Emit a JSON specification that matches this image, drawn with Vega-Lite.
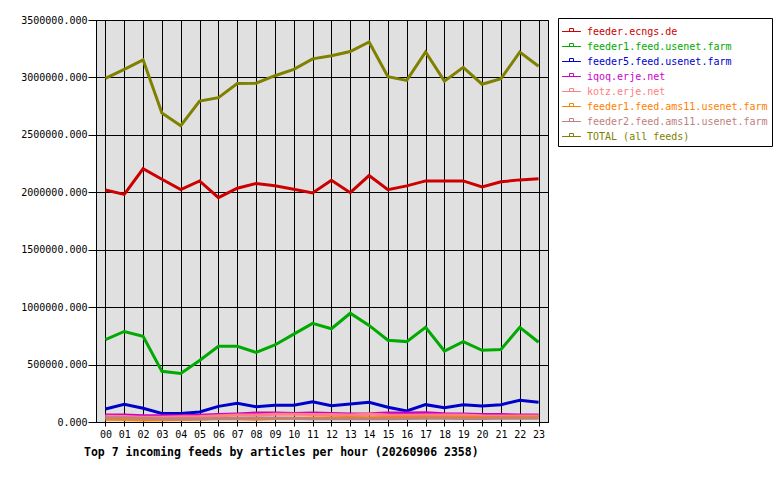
{
  "$schema": "https://vega.github.io/schema/vega-lite/v6.json",
  "width": 452,
  "height": 402,
  "autosize": {"type": "none"},
  "padding": {"left": 96, "top": 20, "right": 232, "bottom": 58},
  "background": "white",
  "title": {
    "text": "Top 7 incoming feeds by articles per hour (20260906 2358)",
    "orient": "bottom",
    "anchor": "start",
    "frame": "group",
    "font": "DejaVu Sans Mono",
    "fontSize": 11.5,
    "fontWeight": "bold",
    "color": "black",
    "dx": -12,
    "offset": 8
  },
  "config": {
    "view": {"fill": "#e0e0e0", "stroke": "black", "strokeWidth": 1}
  },
  "data": {
    "values": [
      {"h": "00", "f": "feeder.ecngs.de", "v": 2020000},
      {"h": "01", "f": "feeder.ecngs.de", "v": 1982000},
      {"h": "02", "f": "feeder.ecngs.de", "v": 2205000},
      {"h": "03", "f": "feeder.ecngs.de", "v": 2114000},
      {"h": "04", "f": "feeder.ecngs.de", "v": 2023000},
      {"h": "05", "f": "feeder.ecngs.de", "v": 2099000},
      {"h": "06", "f": "feeder.ecngs.de", "v": 1953000},
      {"h": "07", "f": "feeder.ecngs.de", "v": 2035000},
      {"h": "08", "f": "feeder.ecngs.de", "v": 2076000},
      {"h": "09", "f": "feeder.ecngs.de", "v": 2056000},
      {"h": "10", "f": "feeder.ecngs.de", "v": 2026000},
      {"h": "11", "f": "feeder.ecngs.de", "v": 1994000},
      {"h": "12", "f": "feeder.ecngs.de", "v": 2105000},
      {"h": "13", "f": "feeder.ecngs.de", "v": 1997000},
      {"h": "14", "f": "feeder.ecngs.de", "v": 2146000},
      {"h": "15", "f": "feeder.ecngs.de", "v": 2023000},
      {"h": "16", "f": "feeder.ecngs.de", "v": 2056000},
      {"h": "17", "f": "feeder.ecngs.de", "v": 2099000},
      {"h": "18", "f": "feeder.ecngs.de", "v": 2099000},
      {"h": "19", "f": "feeder.ecngs.de", "v": 2099000},
      {"h": "20", "f": "feeder.ecngs.de", "v": 2047000},
      {"h": "21", "f": "feeder.ecngs.de", "v": 2091000},
      {"h": "22", "f": "feeder.ecngs.de", "v": 2108000},
      {"h": "23", "f": "feeder.ecngs.de", "v": 2117000},
      {"h": "00", "f": "feeder1.feed.usenet.farm", "v": 718000},
      {"h": "01", "f": "feeder1.feed.usenet.farm", "v": 788000},
      {"h": "02", "f": "feeder1.feed.usenet.farm", "v": 747000},
      {"h": "03", "f": "feeder1.feed.usenet.farm", "v": 441000},
      {"h": "04", "f": "feeder1.feed.usenet.farm", "v": 423000},
      {"h": "05", "f": "feeder1.feed.usenet.farm", "v": 535000},
      {"h": "06", "f": "feeder1.feed.usenet.farm", "v": 659000},
      {"h": "07", "f": "feeder1.feed.usenet.farm", "v": 659000},
      {"h": "08", "f": "feeder1.feed.usenet.farm", "v": 606000},
      {"h": "09", "f": "feeder1.feed.usenet.farm", "v": 671000},
      {"h": "10", "f": "feeder1.feed.usenet.farm", "v": 765000},
      {"h": "11", "f": "feeder1.feed.usenet.farm", "v": 859000},
      {"h": "12", "f": "feeder1.feed.usenet.farm", "v": 812000},
      {"h": "13", "f": "feeder1.feed.usenet.farm", "v": 947000},
      {"h": "14", "f": "feeder1.feed.usenet.farm", "v": 841000},
      {"h": "15", "f": "feeder1.feed.usenet.farm", "v": 712000},
      {"h": "16", "f": "feeder1.feed.usenet.farm", "v": 700000},
      {"h": "17", "f": "feeder1.feed.usenet.farm", "v": 824000},
      {"h": "18", "f": "feeder1.feed.usenet.farm", "v": 618000},
      {"h": "19", "f": "feeder1.feed.usenet.farm", "v": 700000},
      {"h": "20", "f": "feeder1.feed.usenet.farm", "v": 624000},
      {"h": "21", "f": "feeder1.feed.usenet.farm", "v": 632000},
      {"h": "22", "f": "feeder1.feed.usenet.farm", "v": 824000},
      {"h": "23", "f": "feeder1.feed.usenet.farm", "v": 694000},
      {"h": "00", "f": "feeder5.feed.usenet.farm", "v": 113000},
      {"h": "01", "f": "feeder5.feed.usenet.farm", "v": 154000},
      {"h": "02", "f": "feeder5.feed.usenet.farm", "v": 119000},
      {"h": "03", "f": "feeder5.feed.usenet.farm", "v": 75000},
      {"h": "04", "f": "feeder5.feed.usenet.farm", "v": 75000},
      {"h": "05", "f": "feeder5.feed.usenet.farm", "v": 87000},
      {"h": "06", "f": "feeder5.feed.usenet.farm", "v": 136000},
      {"h": "07", "f": "feeder5.feed.usenet.farm", "v": 162000},
      {"h": "08", "f": "feeder5.feed.usenet.farm", "v": 133000},
      {"h": "09", "f": "feeder5.feed.usenet.farm", "v": 145000},
      {"h": "10", "f": "feeder5.feed.usenet.farm", "v": 145000},
      {"h": "11", "f": "feeder5.feed.usenet.farm", "v": 177000},
      {"h": "12", "f": "feeder5.feed.usenet.farm", "v": 142000},
      {"h": "13", "f": "feeder5.feed.usenet.farm", "v": 157000},
      {"h": "14", "f": "feeder5.feed.usenet.farm", "v": 171000},
      {"h": "15", "f": "feeder5.feed.usenet.farm", "v": 128000},
      {"h": "16", "f": "feeder5.feed.usenet.farm", "v": 96000},
      {"h": "17", "f": "feeder5.feed.usenet.farm", "v": 151000},
      {"h": "18", "f": "feeder5.feed.usenet.farm", "v": 125000},
      {"h": "19", "f": "feeder5.feed.usenet.farm", "v": 151000},
      {"h": "20", "f": "feeder5.feed.usenet.farm", "v": 139000},
      {"h": "21", "f": "feeder5.feed.usenet.farm", "v": 151000},
      {"h": "22", "f": "feeder5.feed.usenet.farm", "v": 189000},
      {"h": "23", "f": "feeder5.feed.usenet.farm", "v": 171000},
      {"h": "00", "f": "iqoq.erje.net", "v": 62000},
      {"h": "01", "f": "iqoq.erje.net", "v": 62000},
      {"h": "02", "f": "iqoq.erje.net", "v": 55000},
      {"h": "03", "f": "iqoq.erje.net", "v": 55000},
      {"h": "04", "f": "iqoq.erje.net", "v": 55000},
      {"h": "05", "f": "iqoq.erje.net", "v": 58000},
      {"h": "06", "f": "iqoq.erje.net", "v": 65000},
      {"h": "07", "f": "iqoq.erje.net", "v": 70000},
      {"h": "08", "f": "iqoq.erje.net", "v": 78000},
      {"h": "09", "f": "iqoq.erje.net", "v": 78000},
      {"h": "10", "f": "iqoq.erje.net", "v": 75000},
      {"h": "11", "f": "iqoq.erje.net", "v": 78000},
      {"h": "12", "f": "iqoq.erje.net", "v": 75000},
      {"h": "13", "f": "iqoq.erje.net", "v": 70000},
      {"h": "14", "f": "iqoq.erje.net", "v": 72000},
      {"h": "15", "f": "iqoq.erje.net", "v": 78000},
      {"h": "16", "f": "iqoq.erje.net", "v": 78000},
      {"h": "17", "f": "iqoq.erje.net", "v": 80000},
      {"h": "18", "f": "iqoq.erje.net", "v": 72000},
      {"h": "19", "f": "iqoq.erje.net", "v": 70000},
      {"h": "20", "f": "iqoq.erje.net", "v": 65000},
      {"h": "21", "f": "iqoq.erje.net", "v": 65000},
      {"h": "22", "f": "iqoq.erje.net", "v": 62000},
      {"h": "23", "f": "iqoq.erje.net", "v": 62000},
      {"h": "00", "f": "kotz.erje.net", "v": 50000},
      {"h": "01", "f": "kotz.erje.net", "v": 48000},
      {"h": "02", "f": "kotz.erje.net", "v": 42000},
      {"h": "03", "f": "kotz.erje.net", "v": 42000},
      {"h": "04", "f": "kotz.erje.net", "v": 45000},
      {"h": "05", "f": "kotz.erje.net", "v": 48000},
      {"h": "06", "f": "kotz.erje.net", "v": 55000},
      {"h": "07", "f": "kotz.erje.net", "v": 60000},
      {"h": "08", "f": "kotz.erje.net", "v": 62000},
      {"h": "09", "f": "kotz.erje.net", "v": 68000},
      {"h": "10", "f": "kotz.erje.net", "v": 68000},
      {"h": "11", "f": "kotz.erje.net", "v": 65000},
      {"h": "12", "f": "kotz.erje.net", "v": 65000},
      {"h": "13", "f": "kotz.erje.net", "v": 62000},
      {"h": "14", "f": "kotz.erje.net", "v": 70000},
      {"h": "15", "f": "kotz.erje.net", "v": 60000},
      {"h": "16", "f": "kotz.erje.net", "v": 58000},
      {"h": "17", "f": "kotz.erje.net", "v": 62000},
      {"h": "18", "f": "kotz.erje.net", "v": 62000},
      {"h": "19", "f": "kotz.erje.net", "v": 62000},
      {"h": "20", "f": "kotz.erje.net", "v": 55000},
      {"h": "21", "f": "kotz.erje.net", "v": 52000},
      {"h": "22", "f": "kotz.erje.net", "v": 52000},
      {"h": "23", "f": "kotz.erje.net", "v": 52000},
      {"h": "00", "f": "feeder1.feed.ams11.usenet.farm", "v": 25000},
      {"h": "01", "f": "feeder1.feed.ams11.usenet.farm", "v": 22000},
      {"h": "02", "f": "feeder1.feed.ams11.usenet.farm", "v": 18000},
      {"h": "03", "f": "feeder1.feed.ams11.usenet.farm", "v": 20000},
      {"h": "04", "f": "feeder1.feed.ams11.usenet.farm", "v": 22000},
      {"h": "05", "f": "feeder1.feed.ams11.usenet.farm", "v": 25000},
      {"h": "06", "f": "feeder1.feed.ams11.usenet.farm", "v": 30000},
      {"h": "07", "f": "feeder1.feed.ams11.usenet.farm", "v": 28000},
      {"h": "08", "f": "feeder1.feed.ams11.usenet.farm", "v": 25000},
      {"h": "09", "f": "feeder1.feed.ams11.usenet.farm", "v": 30000},
      {"h": "10", "f": "feeder1.feed.ams11.usenet.farm", "v": 32000},
      {"h": "11", "f": "feeder1.feed.ams11.usenet.farm", "v": 35000},
      {"h": "12", "f": "feeder1.feed.ams11.usenet.farm", "v": 38000},
      {"h": "13", "f": "feeder1.feed.ams11.usenet.farm", "v": 40000},
      {"h": "14", "f": "feeder1.feed.ams11.usenet.farm", "v": 38000},
      {"h": "15", "f": "feeder1.feed.ams11.usenet.farm", "v": 40000},
      {"h": "16", "f": "feeder1.feed.ams11.usenet.farm", "v": 42000},
      {"h": "17", "f": "feeder1.feed.ams11.usenet.farm", "v": 42000},
      {"h": "18", "f": "feeder1.feed.ams11.usenet.farm", "v": 42000},
      {"h": "19", "f": "feeder1.feed.ams11.usenet.farm", "v": 40000},
      {"h": "20", "f": "feeder1.feed.ams11.usenet.farm", "v": 40000},
      {"h": "21", "f": "feeder1.feed.ams11.usenet.farm", "v": 40000},
      {"h": "22", "f": "feeder1.feed.ams11.usenet.farm", "v": 42000},
      {"h": "23", "f": "feeder1.feed.ams11.usenet.farm", "v": 42000},
      {"h": "00", "f": "feeder2.feed.ams11.usenet.farm", "v": 38000},
      {"h": "01", "f": "feeder2.feed.ams11.usenet.farm", "v": 38000},
      {"h": "02", "f": "feeder2.feed.ams11.usenet.farm", "v": 32000},
      {"h": "03", "f": "feeder2.feed.ams11.usenet.farm", "v": 28000},
      {"h": "04", "f": "feeder2.feed.ams11.usenet.farm", "v": 28000},
      {"h": "05", "f": "feeder2.feed.ams11.usenet.farm", "v": 28000},
      {"h": "06", "f": "feeder2.feed.ams11.usenet.farm", "v": 30000},
      {"h": "07", "f": "feeder2.feed.ams11.usenet.farm", "v": 32000},
      {"h": "08", "f": "feeder2.feed.ams11.usenet.farm", "v": 35000},
      {"h": "09", "f": "feeder2.feed.ams11.usenet.farm", "v": 35000},
      {"h": "10", "f": "feeder2.feed.ams11.usenet.farm", "v": 32000},
      {"h": "11", "f": "feeder2.feed.ams11.usenet.farm", "v": 28000},
      {"h": "12", "f": "feeder2.feed.ams11.usenet.farm", "v": 28000},
      {"h": "13", "f": "feeder2.feed.ams11.usenet.farm", "v": 30000},
      {"h": "14", "f": "feeder2.feed.ams11.usenet.farm", "v": 28000},
      {"h": "15", "f": "feeder2.feed.ams11.usenet.farm", "v": 28000},
      {"h": "16", "f": "feeder2.feed.ams11.usenet.farm", "v": 30000},
      {"h": "17", "f": "feeder2.feed.ams11.usenet.farm", "v": 32000},
      {"h": "18", "f": "feeder2.feed.ams11.usenet.farm", "v": 32000},
      {"h": "19", "f": "feeder2.feed.ams11.usenet.farm", "v": 30000},
      {"h": "20", "f": "feeder2.feed.ams11.usenet.farm", "v": 30000},
      {"h": "21", "f": "feeder2.feed.ams11.usenet.farm", "v": 32000},
      {"h": "22", "f": "feeder2.feed.ams11.usenet.farm", "v": 32000},
      {"h": "23", "f": "feeder2.feed.ams11.usenet.farm", "v": 32000},
      {"h": "00", "f": "TOTAL (all feeds)", "v": 2991000},
      {"h": "01", "f": "TOTAL (all feeds)", "v": 3070000},
      {"h": "02", "f": "TOTAL (all feeds)", "v": 3153000},
      {"h": "03", "f": "TOTAL (all feeds)", "v": 2691000},
      {"h": "04", "f": "TOTAL (all feeds)", "v": 2579000},
      {"h": "05", "f": "TOTAL (all feeds)", "v": 2794000},
      {"h": "06", "f": "TOTAL (all feeds)", "v": 2824000},
      {"h": "07", "f": "TOTAL (all feeds)", "v": 2947000},
      {"h": "08", "f": "TOTAL (all feeds)", "v": 2950000},
      {"h": "09", "f": "TOTAL (all feeds)", "v": 3015000},
      {"h": "10", "f": "TOTAL (all feeds)", "v": 3070000},
      {"h": "11", "f": "TOTAL (all feeds)", "v": 3162000},
      {"h": "12", "f": "TOTAL (all feeds)", "v": 3188000},
      {"h": "13", "f": "TOTAL (all feeds)", "v": 3226000},
      {"h": "14", "f": "TOTAL (all feeds)", "v": 3309000},
      {"h": "15", "f": "TOTAL (all feeds)", "v": 3006000},
      {"h": "16", "f": "TOTAL (all feeds)", "v": 2974000},
      {"h": "17", "f": "TOTAL (all feeds)", "v": 3221000},
      {"h": "18", "f": "TOTAL (all feeds)", "v": 2968000},
      {"h": "19", "f": "TOTAL (all feeds)", "v": 3088000},
      {"h": "20", "f": "TOTAL (all feeds)", "v": 2941000},
      {"h": "21", "f": "TOTAL (all feeds)", "v": 2988000},
      {"h": "22", "f": "TOTAL (all feeds)", "v": 3221000},
      {"h": "23", "f": "TOTAL (all feeds)", "v": 3097000}
    ]
  },
  "mark": {"type": "line", "strokeWidth": 3, "strokeCap": "butt"},
  "encoding": {
    "x": {
      "field": "h",
      "type": "ordinal",
      "title": null,
      "scale": {"padding": 0.5},
      "axis": {
        "labelAngle": 0,
        "grid": true,
        "gridColor": "black",
        "gridOpacity": 1,
        "domainColor": "black",
        "tickColor": "black",
        "tickSize": 4,
        "labelFont": "DejaVu Sans Mono",
        "labelFontSize": 10,
        "labelColor": "black",
        "labelPadding": 3
      }
    },
    "y": {
      "field": "v",
      "type": "quantitative",
      "title": null,
      "scale": {"domain": [0, 3500000], "nice": false},
      "axis": {
        "values": [0, 500000, 1000000, 1500000, 2000000, 2500000, 3000000, 3500000],
        "format": ".3f",
        "grid": true,
        "gridColor": "black",
        "gridOpacity": 1,
        "domainColor": "black",
        "tickColor": "black",
        "tickSize": 8,
        "labelFont": "DejaVu Sans Mono",
        "labelFontSize": 10,
        "labelColor": "black",
        "labelPadding": 1
      }
    },
    "color": {
      "field": "f",
      "type": "nominal",
      "title": null,
      "scale": {
        "domain": ["feeder.ecngs.de", "feeder1.feed.usenet.farm", "feeder5.feed.usenet.farm", "iqoq.erje.net", "kotz.erje.net", "feeder1.feed.ams11.usenet.farm", "feeder2.feed.ams11.usenet.farm", "TOTAL (all feeds)"],
        "range": ["#cc0000", "#00aa00", "#0000cc", "#cc00cc", "#ff8080", "#ff8000", "#c08080", "#808000"]
      },
      "legend": {
        "orient": "none",
        "legendX": 462,
        "legendY": -2,
        "fillColor": "white",
        "strokeColor": "black",
        "padding": 4,
        "labelFont": "DejaVu Sans Mono",
        "labelFontSize": 10,
        "labelLimit": 400,
        "labelOffset": 6,
        "rowPadding": -2.6,
        "symbolType": "M-1.05,0H1.05M-0.22,-0.33H0.22V0H-0.22Z",
        "symbolSize": 324,
        "symbolStrokeWidth": 1,
        "symbolFillColor": "transparent",
        "encode": {
          "labels": {"update": {"fill": {"scale": "color", "field": "value"}}}
        }
      }
    }
  }
}
